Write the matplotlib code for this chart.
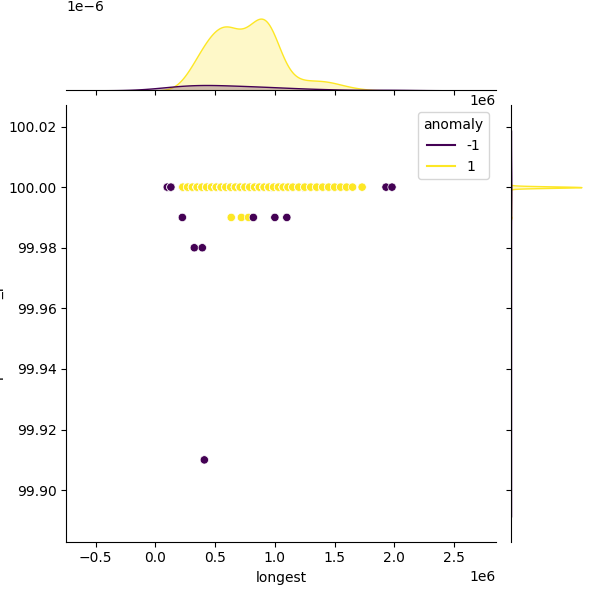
import matplotlib
matplotlib.use("Agg")
import matplotlib.pyplot as plt
import numpy as np
import pandas as pd
import seaborn as sns
from matplotlib.lines import Line2D

x_name = "longest"
y_name = "pairedreads_pct"

# anomaly = 1 at y = 100.00 ; x in units of 1e6, with how many points sit there
normal_x = [0.23, 0.27, 0.31, 0.35, 0.39, 0.43, 0.47, 0.51, 0.55,
            0.59, 0.63, 0.67, 0.71, 0.75, 0.79, 0.83, 0.87, 0.91, 0.95, 0.99,
            1.03, 1.07, 1.11, 1.15, 1.20, 1.25, 1.30, 1.35, 1.40, 1.45, 1.50,
            1.55, 1.60, 1.65, 1.73]
normal_n = [3, 5, 8, 11, 14, 17, 19, 21, 22,
            23, 22, 19, 17, 17, 20, 23, 26, 28, 27, 22,
            14, 7, 5, 4, 4, 4, 4, 4, 4, 4, 3,
            2, 2, 1, 1]
# anomaly = 1 at y = 99.99
normal_low_x = [0.635, 0.72, 0.78]
normal_low_y = [99.99, 99.99, 99.99]

# anomaly = -1 at y = 100.00 (most of them hidden under the yellow row)
anom_top_x = [0.10, 0.10, 0.13, 0.13, 0.13, 0.23, 0.23, 0.27, 0.27, 0.31,
              0.31, 0.35, 0.39, 0.43, 0.43, 0.47, 0.51, 0.51, 0.55, 0.55,
              0.59, 0.63, 0.63, 0.67, 0.71, 0.71, 0.75, 0.79, 0.83, 0.87,
              0.91, 0.95, 0.97, 1.03, 1.15, 1.24, 1.30, 1.40, 1.50, 1.93, 1.98]
# anomaly = -1 below 100
anom_low_x = [0.226, 0.82, 1.00, 1.10, 0.326, 0.393, 0.41]
anom_low_y = [99.99, 99.99, 99.99, 99.99, 99.98, 99.98, 99.91]

top_anom = pd.DataFrame({x_name: np.array(anom_top_x) * 1e6, y_name: 100.0, "anomaly": -1})
normal = pd.DataFrame({
    x_name: np.concatenate([np.repeat(normal_x, normal_n), normal_low_x]) * 1e6,
    y_name: np.concatenate([np.full(sum(normal_n), 100.0), normal_low_y]),
    "anomaly": 1,
})
low_anom = pd.DataFrame({x_name: np.array(anom_low_x) * 1e6, y_name: anom_low_y, "anomaly": -1})
df = pd.concat([top_anom, normal, low_anom], ignore_index=True)

g = sns.jointplot(data=df, x=x_name, y=y_name, hue="anomaly", palette="viridis")
ax = g.ax_joint
ax.set_xlim(-0.744e6, 2.851e6)
ax.set_ylim(99.883, 100.027)

cmap = plt.get_cmap("viridis")
handles = [Line2D([], [], color=cmap(0.0)), Line2D([], [], color=cmap(1.0))]
leg = ax.get_legend()
if leg is not None:
    leg.remove()
ax.legend(handles, ["-1", "1"], title="anomaly", loc="upper right")

g.figure.savefig("out.png", dpi=100)
